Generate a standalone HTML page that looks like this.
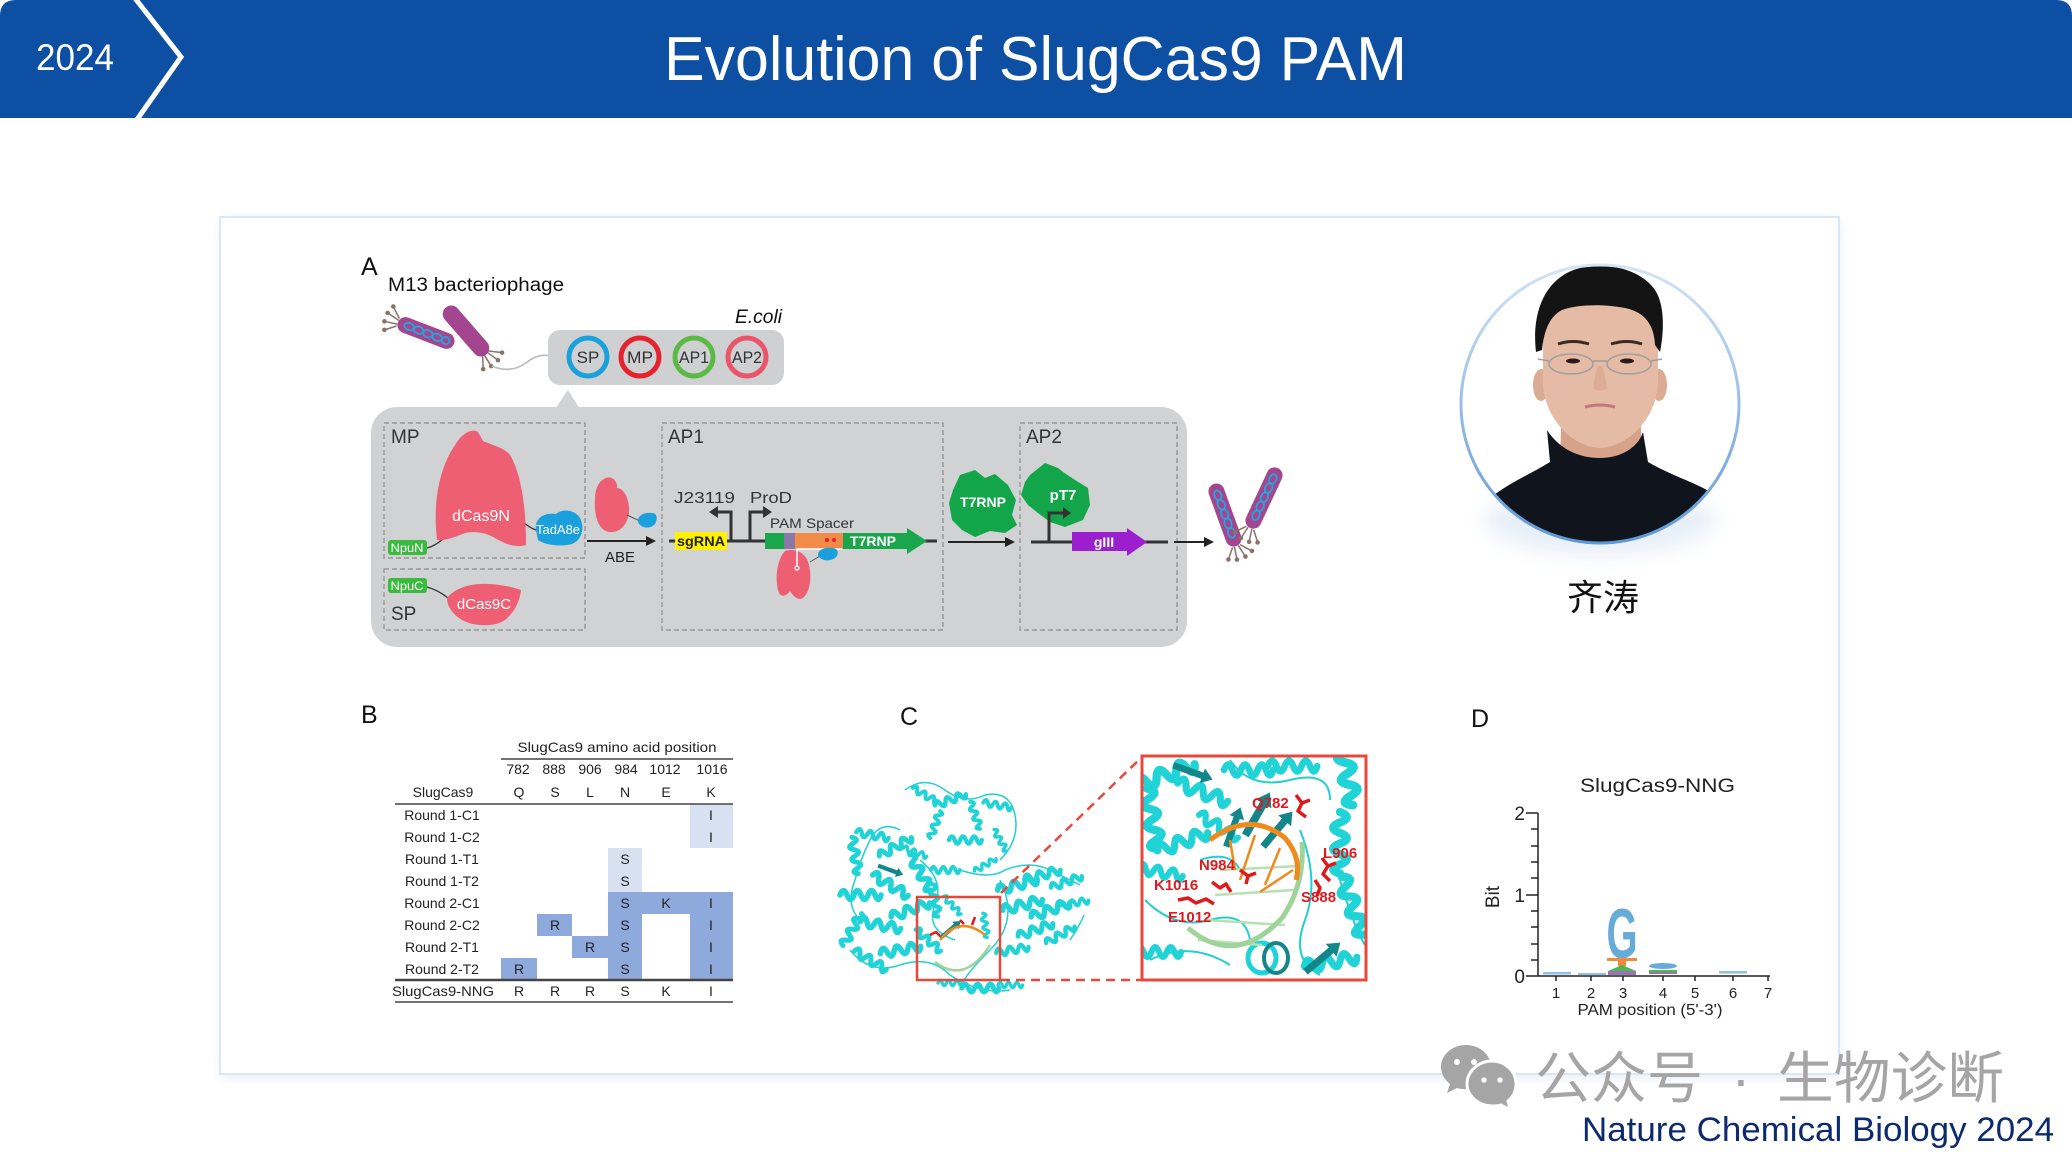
<!DOCTYPE html>
<html><head><meta charset="utf-8">
<style>
html,body{margin:0;padding:0;background:#fff;}
svg{display:block;}
text{font-family:"Liberation Sans","Noto Sans CJK SC",sans-serif;}
</style></head><body>
<svg width="2072" height="1162" viewBox="0 0 2072 1162" xmlns="http://www.w3.org/2000/svg">
<defs>
 <filter id="blur6" x="-20%" y="-20%" width="140%" height="140%"><feGaussianBlur stdDeviation="6"/></filter>
 <filter id="blur10" x="-30%" y="-30%" width="160%" height="160%"><feGaussianBlur stdDeviation="10"/></filter>
 <clipPath id="pc"><circle cx="1600" cy="404" r="138"/></clipPath>
 <clipPath id="zc"><rect x="1143" y="757" width="222" height="222"/></clipPath>
 <linearGradient id="rg" x1="0" y1="0" x2="0" y2="1"><stop offset="0" stop-color="#d4e4f5"/><stop offset="1" stop-color="#5f98d6"/></linearGradient>
 <path id="hx" d="M-20,0 q3.5,-9 7,0 q3.5,9 7,0 q3.5,-9 7,0 q3.5,9 7,0 q3.5,-9 7,0 q3.5,9 6,0" fill="none" stroke="#1fd3d7" stroke-width="5.5" stroke-linejoin="round" stroke-linecap="round"/>
 <path id="bs" d="M-18,-3 L10,-3 L10,-7 L20,0 L10,7 L10,3 L-18,3 Z" fill="#13868a"/>
</defs>

<!-- Header -->
<path d="M0,16 Q0,0 16,0 H2056 Q2072,0 2072,16 V118 H0 Z" fill="#0d4fa3"/>
<polyline points="134,-3 181,57 136,121" fill="none" stroke="#fff" stroke-width="5"/>
<text x="36" y="70" font-size="37" fill="#fff" textLength="78" lengthAdjust="spacingAndGlyphs">2024</text>
<text x="664" y="80" font-size="62" fill="#fff" textLength="743" lengthAdjust="spacingAndGlyphs">Evolution of SlugCas9 PAM</text>

<!-- Card -->
<rect x="222" y="220" width="1617" height="857" fill="#e3ecf7" filter="url(#blur6)"/>
<rect x="220" y="217" width="1619" height="857" fill="#fff" stroke="#d9e7f6" stroke-width="2"/>

<!-- ===== Panel A ===== -->
<text x="361" y="275" font-size="25" fill="#111">A</text>
<text x="388" y="291" font-size="19" fill="#111" textLength="176" lengthAdjust="spacingAndGlyphs">M13 bacteriophage</text>

<g transform="translate(426,333) rotate(21)">
 <g stroke="#8a7268" stroke-width="1.5">
  <line x1="-30" y1="-4" x2="-40" y2="-13"/><line x1="-30" y1="-2" x2="-43" y2="-5"/><line x1="-30" y1="2" x2="-43" y2="4"/><line x1="-30" y1="4" x2="-40" y2="12"/>
 </g>
 <g fill="#8a7268"><circle cx="-40" cy="-13" r="2.3"/><circle cx="-43" cy="-5" r="2.3"/><circle cx="-43" cy="4" r="2.3"/><circle cx="-40" cy="12" r="2.3"/></g>
 <rect x="-30" y="-8" width="60" height="16" rx="8" fill="#a3468f"/>
 <g fill="none" stroke="#22a6dc" stroke-width="1.8"><ellipse cx="-18" cy="0" rx="5" ry="3.5"/><ellipse cx="-8" cy="0" rx="5" ry="3.5"/><ellipse cx="2" cy="0" rx="5" ry="3.5"/><ellipse cx="12" cy="0" rx="5" ry="3.5"/><ellipse cx="21" cy="0" rx="4" ry="3.5"/></g>
</g>
<g transform="translate(466,331) rotate(49)">
 <g stroke="#8a7268" stroke-width="1.5">
  <line x1="30" y1="-4" x2="40" y2="-13"/><line x1="30" y1="-2" x2="43" y2="-5"/><line x1="30" y1="2" x2="43" y2="4"/><line x1="30" y1="4" x2="40" y2="12"/>
 </g>
 <g fill="#8a7268"><circle cx="40" cy="-13" r="2.3"/><circle cx="43" cy="-5" r="2.3"/><circle cx="43" cy="4" r="2.3"/><circle cx="40" cy="12" r="2.3"/></g>
 <rect x="-31" y="-8.5" width="62" height="17" rx="8.5" fill="#a3468f"/>
</g>
<path d="M492,366 Q510,374 526,363 Q538,353 550,356" fill="none" stroke="#bbbbbb" stroke-width="1.6"/>

<text x="735" y="323" font-size="19" font-style="italic" fill="#111" textLength="47" lengthAdjust="spacingAndGlyphs">E.coli</text>
<rect x="548" y="330" width="236" height="55" rx="12" fill="#cfd0d2"/>
<g stroke-width="5" fill="#cfd0d2">
 <circle cx="588" cy="357" r="19" stroke="#19a1dc"/>
 <circle cx="640" cy="357" r="19" stroke="#e5232f"/>
 <circle cx="694" cy="357" r="19" stroke="#5bb946"/>
 <circle cx="747" cy="357" r="19" stroke="#e9566b"/>
</g>
<g font-size="17" fill="#333" text-anchor="middle">
 <text x="588" y="363">SP</text>
 <text x="640" y="363" textLength="26" lengthAdjust="spacingAndGlyphs">MP</text>
 <text x="694" y="363" textLength="30" lengthAdjust="spacingAndGlyphs">AP1</text>
 <text x="747" y="363" textLength="30" lengthAdjust="spacingAndGlyphs">AP2</text>
</g>

<polygon points="555,409 568,390 580,409" fill="#d1d2d4"/>
<rect x="371" y="407" width="816" height="240" rx="26" fill="#d1d2d4"/>
<g fill="none" stroke="#8c8c8c" stroke-width="1.2" stroke-dasharray="5,3">
 <rect x="384" y="423" width="201" height="135"/>
 <rect x="384" y="569" width="201" height="61"/>
 <rect x="662" y="423" width="281" height="207"/>
 <rect x="1020" y="423" width="157" height="207"/>
</g>
<g font-size="19" fill="#333">
 <text x="391" y="443">MP</text>
 <text x="391" y="620">SP</text>
 <text x="668" y="443">AP1</text>
 <text x="1026" y="443">AP2</text>
</g>

<path d="M427,548 Q435,546 443,539" fill="none" stroke="#333" stroke-width="1.2"/>
<path d="M523,522 Q530,528 536,530" fill="none" stroke="#333" stroke-width="1.2"/>
<path d="M437,540 C433,505 438,470 455,445 C462,433 472,428 478,432 L483,441 C492,445 505,448 510,455 C522,475 526,510 526,545 C515,548 505,544 495,538 C485,532 470,530 460,535 C452,538 443,541 437,540 Z" fill="#ee5f73"/>
<text x="481" y="521" font-size="16" fill="#fff" text-anchor="middle">dCas9N</text>
<path d="M536,530 C534,518 545,512 556,514 C563,508 575,510 580,518 C585,528 582,540 572,544 C560,547 545,545 538,540 Z" fill="#1aa0dc"/>
<text x="558" y="534" font-size="13" fill="#fff" text-anchor="middle" textLength="44" lengthAdjust="spacingAndGlyphs">TadA8e</text>
<rect x="388" y="540" width="39" height="15" rx="3" fill="#3cb93f"/>
<text x="407" y="552" font-size="12" fill="#fff" text-anchor="middle" textLength="33" lengthAdjust="spacingAndGlyphs">NpuN</text>

<path d="M427,587 Q438,590 448,598" fill="none" stroke="#333" stroke-width="1.2"/>
<rect x="388" y="578" width="39" height="15" rx="3" fill="#3cb93f"/>
<text x="407" y="590" font-size="12" fill="#fff" text-anchor="middle" textLength="33" lengthAdjust="spacingAndGlyphs">NpuC</text>
<path d="M447,598 C455,588 470,583 490,584 C505,585 515,588 521,590 C520,600 515,612 505,620 C495,627 475,627 462,620 C452,614 447,606 447,598 Z" fill="#ee5f73"/>
<text x="484" y="609" font-size="15" fill="#fff" text-anchor="middle">dCas9C</text>

<path d="M604,479 C612,474 618,482 617,488 C624,488 630,500 629,512 C628,524 620,533 610,532 C598,531 594,515 595,500 C595,490 598,482 604,479 Z" fill="#ee5f73"/>
<line x1="627" y1="515" x2="640" y2="521" stroke="#555" stroke-width="1"/>
<path d="M638,522 C637,515 645,512 652,513 C657,513 658,519 655,524 C651,529 641,529 638,522 Z" fill="#1aa0dc"/>
<line x1="587" y1="541" x2="648" y2="541" stroke="#222" stroke-width="2"/>
<polygon points="656,541 646,536 646,546" fill="#222"/>
<text x="620" y="562" font-size="15" fill="#222" text-anchor="middle">ABE</text>

<line x1="669" y1="541" x2="937" y2="541" stroke="#333" stroke-width="3"/>
<rect x="675" y="532" width="52" height="18" fill="#fff200"/>
<text x="701" y="546" font-size="14" font-weight="bold" fill="#222" text-anchor="middle" textLength="48" lengthAdjust="spacingAndGlyphs">sgRNA</text>
<text x="674" y="503" font-size="16" fill="#333" textLength="61" lengthAdjust="spacingAndGlyphs">J23119</text>
<text x="750" y="503" font-size="16" fill="#333" textLength="42" lengthAdjust="spacingAndGlyphs">ProD</text>
<polyline points="731,541 731,512 717,512" fill="none" stroke="#333" stroke-width="3"/>
<polygon points="709,512 718,506 718,518" fill="#333"/>
<polyline points="750,541 750,512 763,512" fill="none" stroke="#333" stroke-width="3"/>
<polygon points="772,512 763,506 763,518" fill="#333"/>
<text x="770" y="528" font-size="14" fill="#333" textLength="84" lengthAdjust="spacingAndGlyphs">PAM Spacer</text>
<rect x="765" y="533" width="19" height="16" fill="#1aa64b"/>
<rect x="784" y="533" width="11" height="16" fill="#8a78a8"/>
<rect x="795" y="533" width="48" height="16" fill="#f28b4a"/>
<polygon points="843,533 907,533 907,528 927,541 907,554 907,549 843,549" fill="#1aa64b"/>
<text x="873" y="546" font-size="14" font-weight="bold" fill="#fff" text-anchor="middle">T7RNP</text>
<circle cx="827" cy="540" r="2" fill="#e8202a"/><circle cx="834" cy="540" r="2" fill="#e8202a"/>
<path d="M785,551 C795,548 806,552 809,565 C812,578 810,592 803,598 C798,601 793,596 790,591 C786,597 780,598 778,590 C775,577 777,560 785,551 Z" fill="#ee5f73"/>
<polyline points="842,549 797,549 797,566" fill="none" stroke="#fff" stroke-width="1.5"/>
<circle cx="797" cy="568" r="2" fill="none" stroke="#fff" stroke-width="1.2"/>
<line x1="810" y1="562" x2="820" y2="556" stroke="#555" stroke-width="1"/>
<path d="M818,555 C818,549 826,547 833,548 C839,549 839,555 835,558 C830,562 820,561 818,555 Z" fill="#1aa0dc"/>

<path d="M960,475 L975,470 L985,478 L995,474 L1008,485 L1016,500 L1012,515 L1017,525 L1005,533 L990,531 L975,537 L962,530 L952,520 L949,503 L953,490 Z" fill="#12a54a"/>
<text x="983" y="507" font-size="14" font-weight="bold" fill="#fff" text-anchor="middle">T7RNP</text>
<line x1="948" y1="542" x2="1007" y2="542" stroke="#222" stroke-width="2"/>
<polygon points="1015,542 1005,537 1005,547" fill="#222"/>

<path d="M1030,475 L1045,463 L1058,468 L1063,472 L1075,480 L1088,488 L1090,505 L1083,520 L1065,527 L1050,522 L1038,513 L1028,505 L1021,495 L1025,482 Z" fill="#12a54a"/>
<text x="1063" y="500" font-size="15" font-weight="bold" fill="#fff" text-anchor="middle">pT7</text>
<line x1="1031" y1="542" x2="1168" y2="542" stroke="#333" stroke-width="3"/>
<polyline points="1049,542 1049,513 1063,513" fill="none" stroke="#333" stroke-width="3"/>
<polygon points="1071,513 1063,507 1063,519" fill="#333"/>
<polygon points="1072,532 1127,532 1127,528 1147,542 1127,556 1127,551 1072,551" fill="#9b1fcf"/>
<text x="1104" y="547" font-size="14" font-weight="bold" fill="#fff" text-anchor="middle">gIII</text>
<line x1="1174" y1="542" x2="1206" y2="542" stroke="#222" stroke-width="2"/>
<polygon points="1214,542 1204,537 1204,547" fill="#222"/>

<g transform="translate(1225,515) rotate(70)">
 <g stroke="#8a7268" stroke-width="1.5">
  <line x1="33" y1="-4" x2="43" y2="-13"/><line x1="33" y1="-2" x2="46" y2="-5"/><line x1="33" y1="2" x2="46" y2="4"/><line x1="33" y1="4" x2="43" y2="12"/>
 </g>
 <g fill="#8a7268"><circle cx="43" cy="-13" r="2.3"/><circle cx="46" cy="-5" r="2.3"/><circle cx="46" cy="4" r="2.3"/><circle cx="43" cy="12" r="2.3"/></g>
 <rect x="-33" y="-8" width="66" height="16" rx="8" fill="#a3468f"/>
 <g fill="none" stroke="#22a6dc" stroke-width="1.8"><ellipse cx="-21" cy="0" rx="5" ry="3.5"/><ellipse cx="-11" cy="0" rx="5" ry="3.5"/><ellipse cx="-1" cy="0" rx="5" ry="3.5"/><ellipse cx="9" cy="0" rx="5" ry="3.5"/><ellipse cx="19" cy="0" rx="5" ry="3.5"/></g>
</g>
<g transform="translate(1264,498) rotate(115)">
 <g stroke="#8a7268" stroke-width="1.5">
  <line x1="33" y1="-4" x2="43" y2="-13"/><line x1="33" y1="-2" x2="46" y2="-5"/><line x1="33" y1="2" x2="46" y2="4"/><line x1="33" y1="4" x2="43" y2="12"/>
 </g>
 <g fill="#8a7268"><circle cx="43" cy="-13" r="2.3"/><circle cx="46" cy="-5" r="2.3"/><circle cx="46" cy="4" r="2.3"/><circle cx="43" cy="12" r="2.3"/></g>
 <rect x="-33" y="-8" width="66" height="16" rx="8" fill="#a3468f"/>
 <g fill="none" stroke="#22a6dc" stroke-width="1.8"><ellipse cx="-21" cy="0" rx="5" ry="3.5"/><ellipse cx="-11" cy="0" rx="5" ry="3.5"/><ellipse cx="-1" cy="0" rx="5" ry="3.5"/><ellipse cx="9" cy="0" rx="5" ry="3.5"/><ellipse cx="19" cy="0" rx="5" ry="3.5"/></g>
</g>

<!-- ===== Photo ===== -->
<ellipse cx="1600" cy="520" rx="115" ry="35" fill="#e8eff8" filter="url(#blur10)"/>
<g clip-path="url(#pc)">
 <rect x="1460" y="264" width="280" height="282" fill="#fff"/>
 <path d="M1562,400 L1640,400 L1642,460 L1560,460 Z" fill="#d6a38a"/>
 <ellipse cx="1541" cy="385" rx="8" ry="16" fill="#dcab93"/>
 <ellipse cx="1659" cy="385" rx="8" ry="16" fill="#dcab93"/>
 <path d="M1543,330 C1543,300 1568,292 1600,292 C1632,292 1657,300 1658,330 L1658,385 C1656,415 1632,446 1600,448 C1568,446 1545,415 1543,385 Z" fill="#e6bba5"/>
 <path d="M1536,352 C1531,308 1548,276 1580,268 C1605,262 1640,268 1655,290 C1665,305 1664,332 1660,352 L1655,345 C1654,325 1645,312 1625,308 C1605,304 1578,304 1562,310 C1550,316 1544,330 1542,350 Z" fill="#141414"/>
 <path d="M1558,344 Q1573,339 1589,344" fill="none" stroke="#3a2a22" stroke-width="3"/>
 <path d="M1611,344 Q1627,339 1642,344" fill="none" stroke="#3a2a22" stroke-width="3"/>
 <ellipse cx="1573" cy="361" rx="7" ry="2.5" fill="#2a1a1a"/>
 <ellipse cx="1627" cy="361" rx="7" ry="2.5" fill="#2a1a1a"/>
 <g fill="none" stroke="#a0a0a0" stroke-width="1.6">
  <ellipse cx="1571" cy="364" rx="22" ry="10"/><ellipse cx="1629" cy="364" rx="22" ry="10"/>
  <line x1="1593" y1="361" x2="1607" y2="361"/><line x1="1549" y1="361" x2="1538" y2="359"/><line x1="1651" y1="361" x2="1662" y2="359"/>
 </g>
 <path d="M1597,366 L1593,388 Q1600,393 1607,388 L1603,366" fill="#d8a48e" opacity="0.6"/>
 <path d="M1585,407 Q1600,403 1615,407" fill="none" stroke="#c0787a" stroke-width="3"/>
 <path d="M1460,560 L1465,525 C1488,490 1525,478 1550,462 L1547,430 C1560,450 1580,458 1600,458 C1620,458 1638,448 1643,432 L1648,462 C1672,476 1700,484 1715,495 L1742,530 L1742,560 Z" fill="#10141c"/>
</g>
<circle cx="1600" cy="404" r="139" fill="none" stroke="url(#rg)" stroke-width="3"/>
<text x="1603" y="610" font-size="36" fill="#111" text-anchor="middle" font-family="'Noto Serif CJK SC','Liberation Serif',serif">齐涛</text>

<!-- ===== Panel B ===== -->
<text x="361" y="723" font-size="25" fill="#111">B</text>
<g fill="#d7e1f1">
 <rect x="690" y="804" width="43" height="22"/><rect x="690" y="826" width="43" height="22"/>
 <rect x="608" y="848" width="34" height="22"/><rect x="608" y="870" width="34" height="22"/>
</g>
<g fill="#8eaadc">
 <rect x="608" y="892" width="34" height="88"/>
 <rect x="642" y="892" width="48" height="22"/>
 <rect x="690" y="892" width="43" height="88"/>
 <rect x="537" y="914" width="35" height="22"/>
 <rect x="572" y="936" width="36" height="22"/>
 <rect x="501" y="958" width="36" height="22"/>
</g>
<g stroke="#444">
 <line x1="501" y1="759" x2="733" y2="759" stroke-width="1.5"/>
 <line x1="395" y1="804" x2="733" y2="804" stroke-width="1.5"/>
 <line x1="395" y1="980" x2="733" y2="980" stroke-width="2.5"/>
 <line x1="395" y1="1002" x2="733" y2="1002" stroke-width="1.5"/>
</g>
<g font-size="14" fill="#222" text-anchor="middle">
 <text x="617" y="752" textLength="199" lengthAdjust="spacingAndGlyphs">SlugCas9 amino acid position</text>
 <text x="518" y="774">782</text><text x="554" y="774">888</text><text x="590" y="774">906</text><text x="626" y="774">984</text><text x="665" y="774">1012</text><text x="712" y="774">1016</text>
 <text x="443" y="797">SlugCas9</text>
 <text x="519" y="797">Q</text><text x="555" y="797">S</text><text x="590" y="797">L</text><text x="625" y="797">N</text><text x="666" y="797">E</text><text x="711" y="797">K</text>
 <text x="442" y="820">Round 1-C1</text>
 <text x="442" y="842">Round 1-C2</text>
 <text x="442" y="864">Round 1-T1</text>
 <text x="442" y="886">Round 1-T2</text>
 <text x="442" y="908">Round 2-C1</text>
 <text x="442" y="930">Round 2-C2</text>
 <text x="442" y="952">Round 2-T1</text>
 <text x="442" y="974">Round 2-T2</text>
 <text x="443" y="996" textLength="102" lengthAdjust="spacingAndGlyphs">SlugCas9-NNG</text>
 <text x="711" y="820">I</text><text x="711" y="842">I</text>
 <text x="625" y="864">S</text><text x="625" y="886">S</text>
 <text x="625" y="908">S</text><text x="666" y="908">K</text><text x="711" y="908">I</text>
 <text x="555" y="930">R</text><text x="625" y="930">S</text><text x="711" y="930">I</text>
 <text x="590" y="952">R</text><text x="625" y="952">S</text><text x="711" y="952">I</text>
 <text x="519" y="974">R</text><text x="625" y="974">S</text><text x="711" y="974">I</text>
 <text x="519" y="996">R</text><text x="555" y="996">R</text><text x="590" y="996">R</text><text x="625" y="996">S</text><text x="666" y="996">K</text><text x="711" y="996">I</text>
</g>

<!-- ===== Panel C ===== -->
<text x="900" y="725" font-size="25" fill="#111">C</text>
<g fill="none" stroke="#22cfd3" stroke-width="1.5">
 <path d="M905,790 Q925,775 945,790 T985,795 Q1010,790 1015,815 T1000,860"/>
 <path d="M900,830 Q880,820 870,840 T855,880 Q845,905 860,920"/>
 <path d="M960,870 Q990,880 1005,870 Q1030,860 1050,870 T1080,885"/>
 <path d="M850,950 Q870,975 900,965 T950,975 Q980,995 1010,990"/>
 <path d="M1000,880 Q1020,920 990,950 T960,990"/>
 <path d="M920,860 Q945,880 935,905 T955,940"/>
 <path d="M1070,940 Q1080,925 1084,915"/>
</g>
<g>
 <use href="#hx" transform="translate(925,795) rotate(30) scale(0.7)"/>
 <use href="#hx" transform="translate(950,800) rotate(-20) scale(0.8)"/>
 <use href="#hx" transform="translate(975,815) rotate(70) scale(0.7)"/>
 <use href="#hx" transform="translate(997,805) rotate(10) scale(0.7)"/>
 <use href="#hx" transform="translate(935,825) rotate(-70) scale(0.7)"/>
 <use href="#hx" transform="translate(965,840) rotate(0) scale(0.8)"/>
 <use href="#hx" transform="translate(1000,840) rotate(60) scale(0.6)"/>
 <use href="#hx" transform="translate(915,852) rotate(20) scale(0.6)"/>
 <use href="#hx" transform="translate(985,865) rotate(-30) scale(0.6)"/>
 <use href="#hx" transform="translate(855,855) rotate(80) scale(0.9)"/>
 <use href="#hx" transform="translate(872,835) rotate(10) scale(0.8)"/>
 <use href="#hx" transform="translate(895,847) rotate(-30) scale(0.9)"/>
 <use href="#hx" transform="translate(920,872) rotate(60) scale(1)"/>
 <use href="#hx" transform="translate(860,895) rotate(0) scale(1)"/>
 <use href="#hx" transform="translate(890,885) rotate(30) scale(1)"/>
 <use href="#hx" transform="translate(852,930) rotate(-60) scale(0.9)"/>
 <use href="#hx" transform="translate(880,925) rotate(10) scale(1)"/>
 <use href="#hx" transform="translate(910,910) rotate(-20) scale(1)"/>
 <use href="#hx" transform="translate(935,900) rotate(80) scale(0.8)"/>
 <use href="#hx" transform="translate(870,960) rotate(30) scale(0.9)"/>
 <use href="#hx" transform="translate(900,950) rotate(-10) scale(1)"/>
 <use href="#hx" transform="translate(928,940) rotate(40) scale(0.8)"/>
 <use href="#hx" transform="translate(945,870) rotate(0) scale(0.7)"/>
 <use href="#hx" transform="translate(1017,885) rotate(-15) scale(1)"/>
 <use href="#hx" transform="translate(1042,875) rotate(-15) scale(0.9)"/>
 <use href="#hx" transform="translate(1066,882) rotate(-20) scale(0.8)"/>
 <use href="#hx" transform="translate(1022,905) rotate(-15) scale(1)"/>
 <use href="#hx" transform="translate(1050,910) rotate(-20) scale(1)"/>
 <use href="#hx" transform="translate(1074,903) rotate(-10) scale(0.7)"/>
 <use href="#hx" transform="translate(1035,930) rotate(-20) scale(0.9)"/>
 <use href="#hx" transform="translate(1060,935) rotate(-30) scale(0.8)"/>
 <use href="#hx" transform="translate(1012,950) rotate(-10) scale(0.8)"/>
 <use href="#hx" transform="translate(952,905) rotate(45) scale(0.6)"/>
 <use href="#hx" transform="translate(985,925) rotate(80) scale(0.6)"/>
 <use href="#hx" transform="translate(980,988) rotate(0) scale(0.9)"/>
 <use href="#hx" transform="translate(1010,985) rotate(0) scale(0.6)"/>
 <use href="#hx" transform="translate(950,983) rotate(0) scale(0.6)"/>
 <use href="#bs" transform="translate(950,930) rotate(-40) scale(0.7)"/>
 <use href="#bs" transform="translate(890,870) rotate(20) scale(0.7)"/>
</g>
<path d="M940,940 Q960,915 985,935" fill="none" stroke="#f08a1c" stroke-width="2.5"/>
<path d="M935,962 Q965,985 990,945" fill="none" stroke="#9fd39a" stroke-width="2.5"/>
<g stroke="#e01a1a" stroke-width="2.5" fill="none"><path d="M930,935 l6,-3 l4,4"/><path d="M972,925 l3,-8"/><path d="M960,920 l4,4"/></g>
<rect x="917" y="897" width="83" height="83" fill="none" stroke="#e8473b" stroke-width="2.5"/>
<g stroke="#e8473b" stroke-width="2.5" stroke-dasharray="9,6"><line x1="1001" y1="893" x2="1142" y2="757"/><line x1="1001" y1="980" x2="1142" y2="980"/></g>

<rect x="1142" y="756" width="224" height="224" fill="#fff"/>
<g clip-path="url(#zc)">
 <g fill="none" stroke="#22cfd3" stroke-width="2">
  <path d="M1145,900 Q1175,930 1210,920 T1250,940"/>
  <path d="M1230,760 Q1250,790 1290,780 T1330,800"/>
  <path d="M1300,830 Q1320,880 1305,920 T1320,975"/>
  <path d="M1150,960 Q1190,940 1230,965"/>
  <path d="M1200,860 Q1230,850 1240,870"/>
  <path d="M1340,880 Q1355,930 1365,945"/>
 </g>
 <use href="#hx" transform="translate(1165,775) rotate(-20) scale(1.5)"/>
 <use href="#hx" transform="translate(1202,792) rotate(20) scale(1.3)"/>
 <use href="#hx" transform="translate(1152,818) rotate(80) scale(1.5)"/>
 <use href="#hx" transform="translate(1182,842) rotate(-20) scale(1.3)"/>
 <use href="#hx" transform="translate(1160,872) rotate(10) scale(1.1)"/>
 <use href="#hx" transform="translate(1248,770) rotate(0) scale(1.2)"/>
 <use href="#hx" transform="translate(1292,766) rotate(0) scale(1.2)"/>
 <use href="#hx" transform="translate(1347,772) rotate(80) scale(1.6)"/>
 <use href="#hx" transform="translate(1340,842) rotate(90) scale(1.5)"/>
 <use href="#hx" transform="translate(1352,905) rotate(70) scale(1.5)"/>
 <use href="#hx" transform="translate(1330,962) rotate(-10) scale(1.3)"/>
 <use href="#hx" transform="translate(1218,826) rotate(30) scale(1.1)"/>
 <use href="#hx" transform="translate(1158,952) rotate(0) scale(1.1)"/>
 <use href="#bs" transform="translate(1257,815) rotate(-60) scale(1.3)"/>
 <use href="#bs" transform="translate(1277,830) rotate(-50) scale(1.2)"/>
 <use href="#bs" transform="translate(1233,828) rotate(-70) scale(1.1)"/>
 <use href="#bs" transform="translate(1322,958) rotate(-40) scale(1.2)"/>
 <use href="#bs" transform="translate(1192,772) rotate(20) scale(1.1)"/>
 <ellipse cx="1262" cy="958" rx="14" ry="15" fill="none" stroke="#1fd3d7" stroke-width="5"/>
 <ellipse cx="1276" cy="958" rx="12" ry="15" fill="none" stroke="#13868a" stroke-width="4"/>
 <g stroke="#b9e0b2" stroke-width="2.5"><line x1="1220" y1="870" x2="1300" y2="866"/><line x1="1215" y1="895" x2="1295" y2="890"/><line x1="1205" y1="920" x2="1285" y2="925"/><line x1="1198" y1="940" x2="1262" y2="945"/></g>
 <path d="M1188,928 Q1235,968 1282,918 Q1305,885 1302,842" fill="none" stroke="#9fd39a" stroke-width="5"/>
 <g stroke="#f08a1c" stroke-width="2.5"><line x1="1230" y1="840" x2="1235" y2="870"/><line x1="1255" y1="835" x2="1240" y2="880"/><line x1="1280" y1="848" x2="1265" y2="885"/><line x1="1293" y1="870" x2="1260" y2="892"/></g>
 <path d="M1210,840 Q1250,810 1285,838 Q1302,858 1296,880" fill="none" stroke="#f08a1c" stroke-width="5"/>
 <g fill="none" stroke="#e01a1a" stroke-width="3.5" stroke-linejoin="round">
  <path d="M1296,795 l6,8 l-4,8 l8,6 M1302,803 l8,-3"/>
  <path d="M1322,858 l6,8 l-5,8 l7,7 M1328,866 l8,-3"/>
  <path d="M1240,870 l8,6 l8,-3 M1248,876 l-2,8"/>
  <path d="M1212,882 l8,6 l6,-4 l5,8"/>
  <path d="M1178,900 l10,-2 l8,5 l10,-4 l8,5"/>
  <path d="M1315,880 l5,8 l-3,8"/>
 </g>
 <g font-size="15" font-weight="bold" fill="#e0191e">
  <text x="1252" y="808">Q782</text>
  <text x="1323" y="858">L906</text>
  <text x="1199" y="870">N984</text>
  <text x="1154" y="890">K1016</text>
  <text x="1301" y="902">S888</text>
  <text x="1168" y="922">E1012</text>
 </g>
</g>
<rect x="1142" y="756" width="224" height="224" fill="none" stroke="#e8473b" stroke-width="3"/>

<!-- ===== Panel D ===== -->
<text x="1471" y="727" font-size="25" fill="#111">D</text>
<text x="1580" y="792" font-size="19" fill="#222" textLength="155" lengthAdjust="spacingAndGlyphs">SlugCas9-NNG</text>
<g stroke="#222" stroke-width="1.5">
 <line x1="1538" y1="813" x2="1538" y2="976"/>
 <line x1="1538" y1="976" x2="1770" y2="976"/>
 <line x1="1526" y1="813" x2="1538" y2="813"/>
 <line x1="1526" y1="895" x2="1538" y2="895"/>
 <line x1="1526" y1="976" x2="1538" y2="976"/>
 <line x1="1531" y1="829" x2="1538" y2="829"/><line x1="1531" y1="846" x2="1538" y2="846"/><line x1="1531" y1="862" x2="1538" y2="862"/><line x1="1531" y1="878" x2="1538" y2="878"/>
 <line x1="1531" y1="911" x2="1538" y2="911"/><line x1="1531" y1="927" x2="1538" y2="927"/><line x1="1531" y1="944" x2="1538" y2="944"/><line x1="1531" y1="960" x2="1538" y2="960"/>
 <line x1="1556" y1="976" x2="1556" y2="981"/><line x1="1591" y1="976" x2="1591" y2="981"/><line x1="1623" y1="976" x2="1623" y2="981"/><line x1="1663" y1="976" x2="1663" y2="981"/><line x1="1695" y1="976" x2="1695" y2="981"/><line x1="1733" y1="976" x2="1733" y2="981"/><line x1="1768" y1="976" x2="1768" y2="981"/>
</g>
<g font-size="19" fill="#222" text-anchor="end">
 <text x="1525" y="820">2</text><text x="1525" y="902">1</text><text x="1525" y="983">0</text>
</g>
<g font-size="15" fill="#222" text-anchor="middle">
 <text x="1556" y="998">1</text><text x="1591" y="998">2</text><text x="1623" y="998">3</text><text x="1663" y="998">4</text><text x="1695" y="998">5</text><text x="1733" y="998">6</text><text x="1768" y="998">7</text>
</g>
<text x="1650" y="1015" font-size="16" fill="#222" text-anchor="middle" textLength="145" lengthAdjust="spacingAndGlyphs">PAM position (5'-3')</text>
<text transform="translate(1499,897) rotate(-90)" font-size="19" fill="#222" text-anchor="middle">Bit</text>
<text transform="translate(1622,958) scale(1,1.76)" font-size="40" font-weight="bold" fill="#67abd8" text-anchor="middle">G</text>
<rect x="1607" y="958" width="30" height="3" fill="#f08a3c"/>
<rect x="1618" y="961" width="8" height="5" fill="#f08a3c"/>
<polygon points="1608,971 1622,965 1636,971" fill="#4cb84e"/>
<rect x="1608" y="971" width="28" height="4" fill="#9a72b8"/>
<ellipse cx="1663" cy="966" rx="14" ry="3" fill="#67abd8"/>
<rect x="1649" y="970" width="28" height="2" fill="#4cb84e"/>
<rect x="1649" y="972" width="28" height="2" fill="#9a72b8"/>
<rect x="1543" y="972" width="28" height="2.5" fill="#8fc2e2"/>
<rect x="1578" y="973" width="28" height="2" fill="#8fc2e2"/>
<rect x="1719" y="971" width="28" height="2.5" fill="#8fc2e2"/>

<!-- ===== Watermark & footer ===== -->
<g fill="#a5a5a5">
 <path d="M1466,1045 C1452,1045 1441,1055 1441,1067 C1441,1074 1445,1080 1450,1084 L1447,1093 L1457,1088 C1460,1089 1463,1089 1466,1089 C1480,1089 1491,1079 1491,1067 C1491,1055 1480,1045 1466,1045 Z"/>
 <path d="M1492,1061 C1479,1061 1467,1071 1467,1084 C1467,1096 1479,1106 1492,1106 C1495,1106 1498,1106 1501,1105 L1510,1110 L1508,1101 C1513,1097 1516,1091 1516,1084 C1516,1071 1505,1061 1492,1061 Z" stroke="#fff" stroke-width="3"/>
</g>
<g fill="#fff"><circle cx="1457" cy="1062" r="3"/><circle cx="1474" cy="1062" r="3"/><circle cx="1484" cy="1080" r="2.7"/><circle cx="1500" cy="1080" r="2.7"/></g>
<g font-size="56" fill="#a5a5a5" font-family="'Noto Sans CJK SC','WenQuanYi Zen Hei',sans-serif">
 <text x="1535" y="1098" textLength="168" lengthAdjust="spacingAndGlyphs">公众号</text>
 <text x="1741" y="1098" text-anchor="middle">·</text>
 <text x="1777" y="1098" textLength="227" lengthAdjust="spacingAndGlyphs">生物诊断</text>
</g>
<text x="1582" y="1141" font-size="34" fill="#0e2a6e" textLength="472" lengthAdjust="spacingAndGlyphs">Nature Chemical Biology 2024</text>
</svg>
</body></html>
